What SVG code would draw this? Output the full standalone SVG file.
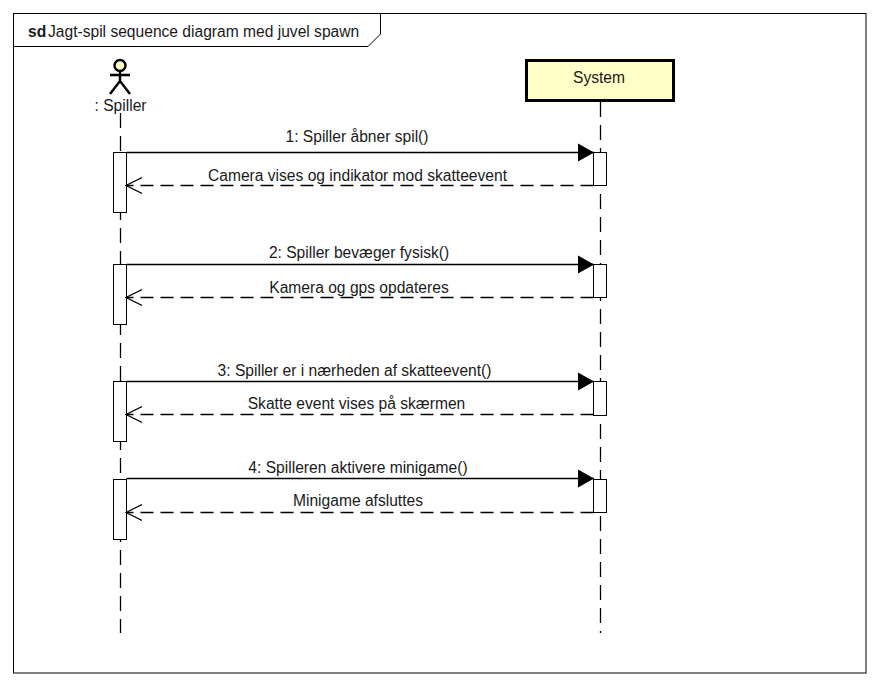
<svg xmlns="http://www.w3.org/2000/svg" width="880" height="686" viewBox="0 0 880 686">
<defs>
<style>
text{font-family:"Liberation Sans",Arial,sans-serif;font-size:15.6px;fill:#1a1a1a;text-anchor:middle}
.life{stroke:#000;stroke-width:1.3;stroke-dasharray:15 8;fill:none}
.msg{stroke:#000;stroke-width:1.3;fill:none}
.ret{stroke:#000;stroke-width:1.3;stroke-dasharray:13 7;fill:none}
.act{fill:#fff;stroke:#000;stroke-width:1}
</style>
<marker id="solid" markerUnits="userSpaceOnUse" markerWidth="18" markerHeight="20" refX="16" refY="9.5" orient="auto"><path d="M0 0.5L16 9.5L0 18.5Z" fill="#000"/></marker>
<marker id="open" markerUnits="userSpaceOnUse" markerWidth="18" markerHeight="20" refX="16" refY="9.5" orient="auto"><path d="M0 1.5L16 9.5L0 17.5" fill="none" stroke="#000" stroke-width="1.2"/></marker>
</defs>
<rect width="880" height="686" fill="#fff"/>
<g id="frame">
<rect x="13.5" y="13.5" width="852.5" height="659.5" fill="none" stroke="#000" stroke-width="1"/>
<path d="M13.5 46.5H368L380.5 34V13.5" fill="none" stroke="#000" stroke-width="1"/>
<text x="28" y="37" font-weight="bold" style="text-anchor:start">sd</text>
<text x="48" y="37" style="text-anchor:start">Jagt-spil sequence diagram med juvel spawn</text>
</g>
<g id="lifelines">
<path class="life" d="M120.5 113V633"/>
<path class="life" d="M600.5 102V633"/>
</g>
<g id="spiller">
<circle cx="120" cy="65.5" r="5.5" fill="#ffffc8" stroke="#000" stroke-width="2.4"/>
<path d="M120 71V81M110 75H130M110 94L120 81L130 94" fill="none" stroke="#000" stroke-width="2.4"/>
<text x="120.5" y="111">: Spiller</text>
</g>
<g id="system">
<rect x="526.5" y="60.5" width="147" height="40" fill="#ffffc8" stroke="#000" stroke-width="3"/>
<text x="599" y="83">System</text>
</g>
<g id="activations">
<rect class="act" x="113.5" y="152.5" width="13" height="60"/>
<rect class="act" x="593.5" y="152.5" width="13" height="33"/>
<rect class="act" x="113.5" y="264.5" width="13" height="60"/>
<rect class="act" x="593.5" y="264.5" width="13" height="33"/>
<rect class="act" x="113.5" y="381.5" width="13" height="60"/>
<rect class="act" x="593.5" y="381.5" width="13" height="34"/>
<rect class="act" x="113.5" y="479.5" width="13" height="60"/>
<rect class="act" x="593.5" y="479.5" width="13" height="33"/>
</g>
<g id="connectors">
<path class="msg" marker-end="url(#solid)" d="M126.5 152.5H594"/>
<path class="ret" marker-end="url(#open)" d="M593.5 185.5H126"/>
<path class="msg" marker-end="url(#solid)" d="M126.5 264.5H594"/>
<path class="ret" marker-end="url(#open)" d="M593.5 297.5H126"/>
<path class="msg" marker-end="url(#solid)" d="M126.5 381.5H594"/>
<path class="ret" marker-end="url(#open)" d="M593.5 414.5H126"/>
<path class="msg" marker-end="url(#solid)" d="M126.5 478.5H594"/>
<path class="ret" marker-end="url(#open)" d="M593.5 512.5H126"/>
</g>
<g id="labels">
<text x="357" y="142">1: Spiller åbner spil()</text>
<text x="357.5" y="181">Camera vises og indikator mod skatteevent</text>
<text x="359" y="258">2: Spiller bevæger fysisk()</text>
<text x="359" y="293">Kamera og gps opdateres</text>
<text x="354.5" y="376">3: Spiller er i nærheden af skatteevent()</text>
<text x="356.5" y="409">Skatte event vises på skærmen</text>
<text x="358" y="473">4: Spilleren aktivere minigame()</text>
<text x="358" y="506">Minigame afsluttes</text>
</g>
</svg>
